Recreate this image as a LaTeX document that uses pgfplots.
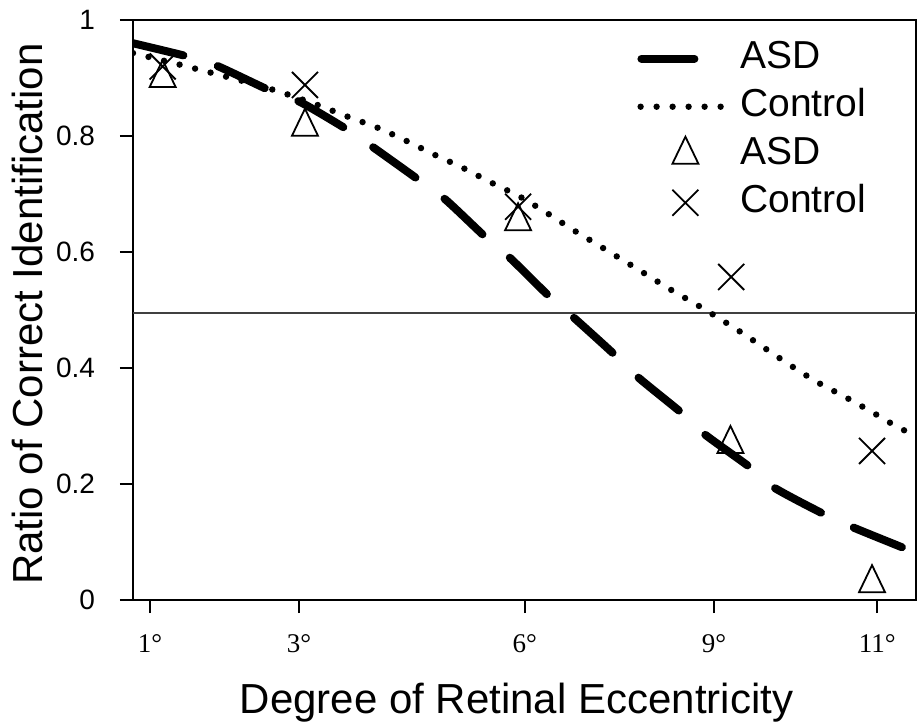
\documentclass[border=0pt]{standalone}
\usepackage{pgfplots}
\pgfplotsset{compat=1.18}
\usepackage{fontspec}
\setmainfont{Liberation Sans}
\newfontfamily\timesfont{Liberation Serif}

\pgfplotsset{
  markleg/.style={legend image code/.code={
    \draw[##1] plot coordinates {(24pt,0pt)};
    \path[draw=none, fill=none] (0pt,-1pt) rectangle (46pt,1pt);}},
}

\begin{document}
\begin{tikzpicture}
\begin{axis}[name=ax,
  scale only axis, width=391.5pt, height=290pt,
  xmin=0.772, xmax=11.28, ymin=0, ymax=1,
  axis line style={line width=1.2pt},
  tick align=outside, xtick pos=bottom, ytick pos=left,
  major tick length=6.5pt,
  major tick style={line width=1.2pt, black},
  xtick={1,3,6.03,8.57,10.76},
  xticklabels={1°,3°,6°,9°,11°},
  xticklabel style={font=\timesfont\fontsize{13.5}{15}\selectfont, anchor=base, yshift=-19.5pt},
  ytick={0,0.2,0.4,0.6,0.8,1},
  yticklabel style={font=\fontsize{14}{16}\selectfont, anchor=east},
  yticklabel shift=9pt,
  /pgf/number format/assume math mode=true,
  xlabel={Degree of Retinal Eccentricity},
  ylabel={Ratio of Correct Identification},
  label style={font=\fontsize{21}{24}\selectfont},
  xlabel style={at={([xshift=-4pt,yshift=-56.5pt]axis description cs:0.5,0)}, anchor=base},
  ylabel style={at={([xshift=-45pt,yshift=-2pt]axis description cs:0,0.5)}, anchor=base},
  legend style={draw=none, fill=none, at={(0.6437,0.965)}, anchor=north west,
    inner sep=0pt, font=\fontsize{19.5}{22}\selectfont, row sep=6pt, column sep=5.5pt,
    nodes={inner sep=0pt, text height=14pt, text depth=4pt}},
  legend cell align=left,
]
% reference line
\addplot[forget plot, line width=1pt, black!75] coordinates {(0.772,0.495)(11.28,0.495)};

% fitted curves
\addplot[smooth, line width=4pt, line cap=round, dash pattern=on 26pt off 18pt,
  legend image code/.code={
    \draw[line width=4pt, line cap=round, solid] (2pt,0pt) -- (28.5pt,0pt);
    \path[draw=none, fill=none] (0pt,-1pt) rectangle (46pt,1pt);}]
  coordinates {(0.77,0.960)(1.54,0.936)(1.9,0.921)(2.65,0.876)(3.01,0.859)(3.66,0.81)
  (3.99,0.781)(4.61,0.724)(4.96,0.691)(5.50,0.626)(5.83,0.59)(6.37,0.522)(6.66,0.49)
  (7.21,0.426)(7.55,0.384)(8.14,0.322)(8.42,0.288)(9.05,0.229)(9.36,0.195)(10.06,0.147)
  (10.42,0.126)(11.11,0.09)};
\addlegendentry{ASD}

\addplot[smooth, line width=3.2pt, line cap=round, dash pattern=on 0pt off 8pt,
  legend image code/.code={
    \draw[line width=3.2pt, line cap=round, dash pattern=on 0pt off 8pt] (1.6pt,0pt) -- (41.7pt,0pt);
    \path[draw=none, fill=none] (0pt,-1pt) rectangle (46pt,1pt);}]
  coordinates {(0.772,0.943)(1.43,0.922)(2.03,0.902)(2.44,0.888)(2.84,0.872)(3.26,0.853)
  (3.66,0.833)(4.06,0.814)(4.45,0.791)(4.83,0.767)(5.20,0.745)(5.59,0.719)(5.97,0.695)
  (6.33,0.667)(6.68,0.638)(7.04,0.610)(7.60,0.566)(7.95,0.538)(8.34,0.509)(8.52,0.495)
  (8.88,0.466)(9.23,0.436)(9.59,0.405)(9.95,0.376)(10.33,0.350)(10.69,0.324)(11.05,0.297)
  (11.28,0.284)};
\addlegendentry{Control}

% observed data
\addplot[only marks, mark=triangle, mark size=7.5pt, mark options={yscale=1.2, line width=0.9pt}, markleg]
  coordinates {(1.17,0.90)(3.08,0.816)(5.94,0.653)(8.79,0.269)(10.69,0.029)};
\addlegendentry{ASD}

\addplot[only marks, mark=x, mark size=9.2pt, mark options={line width=0.9pt}, markleg]
  coordinates {(1.17,0.92)(3.08,0.888)(5.94,0.678)(8.80,0.557)(10.69,0.257)};
\addlegendentry{Control}
\end{axis}
\pgfresetboundingbox
\path[use as bounding box] ([shift={(-66.5pt,-62.5pt)}]ax.south west) rectangle ([shift={(0.5pt,10pt)}]ax.north east);
\end{tikzpicture}
\end{document}
